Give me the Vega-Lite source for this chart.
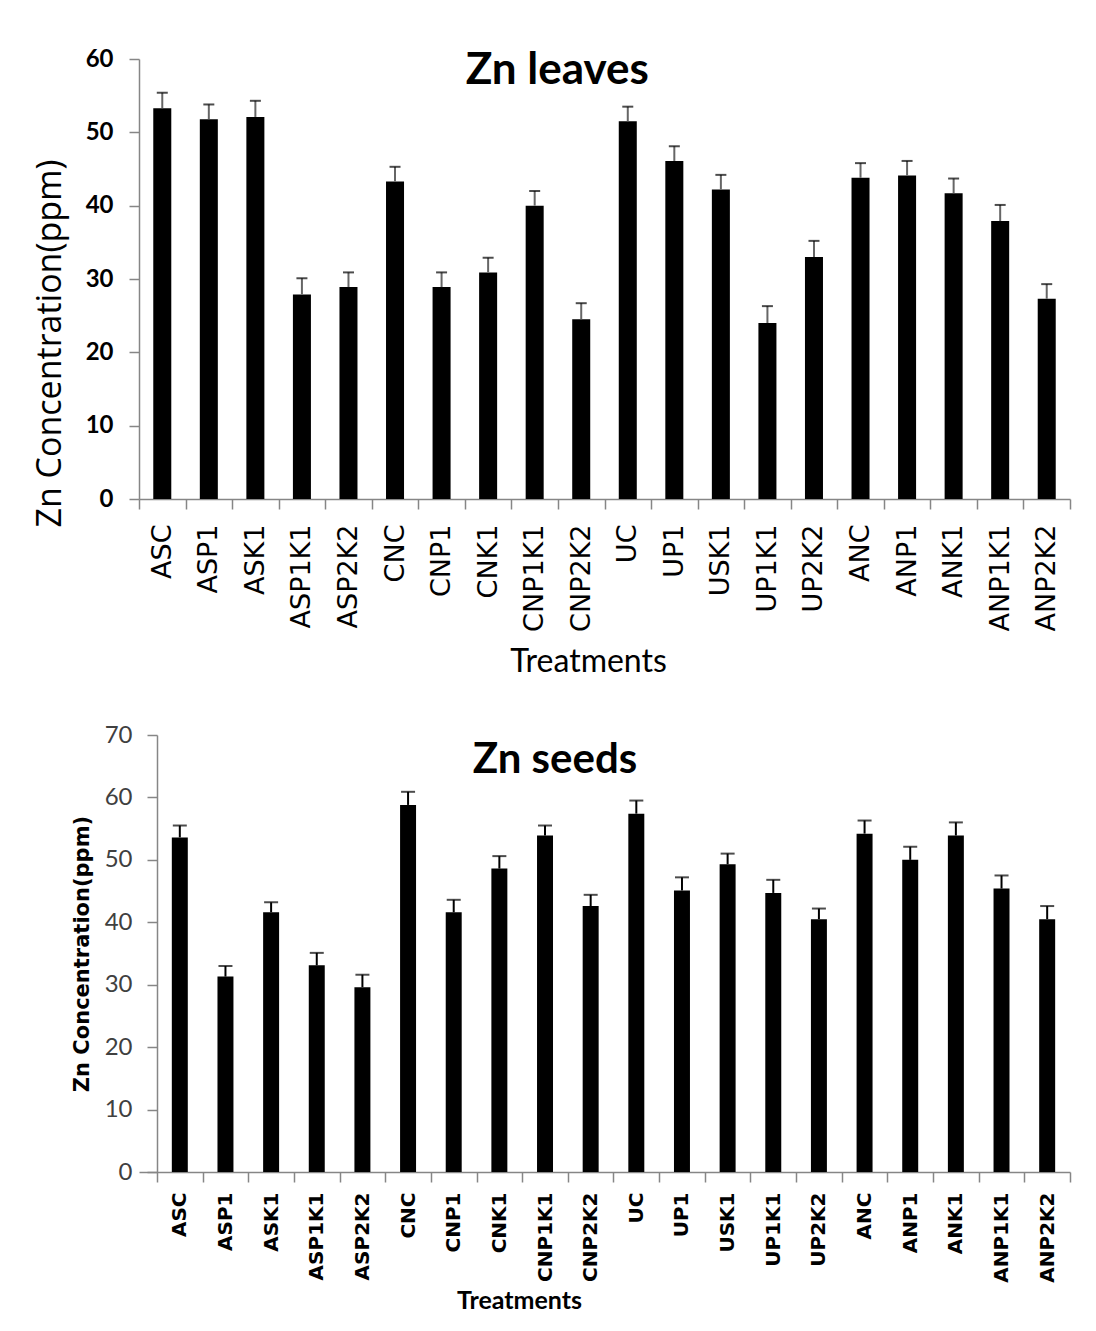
{
  "$schema": "https://vega.github.io/schema/vega-lite/v6.json",
  "background": "white",
  "padding": {"left": 33, "top": 47, "right": 10, "bottom": 5},
  "align": "none",
  "spacing": 45,
  "config": {"view": {"stroke": null}},
  "datasets": {
    "leaves": [
      {"treatment": "ASC", "mean": 53.3, "upper": 55.4},
      {"treatment": "ASP1", "mean": 51.8, "upper": 53.8},
      {"treatment": "ASK1", "mean": 52.1, "upper": 54.3},
      {"treatment": "ASP1K1", "mean": 27.9, "upper": 30.1},
      {"treatment": "ASP2K2", "mean": 28.9, "upper": 30.9},
      {"treatment": "CNC", "mean": 43.3, "upper": 45.3},
      {"treatment": "CNP1", "mean": 28.9, "upper": 30.9},
      {"treatment": "CNK1", "mean": 30.9, "upper": 32.9},
      {"treatment": "CNP1K1", "mean": 40.0, "upper": 42.0},
      {"treatment": "CNP2K2", "mean": 24.5, "upper": 26.7},
      {"treatment": "UC", "mean": 51.5, "upper": 53.5},
      {"treatment": "UP1", "mean": 46.1, "upper": 48.1},
      {"treatment": "USK1", "mean": 42.2, "upper": 44.2},
      {"treatment": "UP1K1", "mean": 24.0, "upper": 26.3},
      {"treatment": "UP2K2", "mean": 33.0, "upper": 35.2},
      {"treatment": "ANC", "mean": 43.8, "upper": 45.8},
      {"treatment": "ANP1", "mean": 44.1, "upper": 46.1},
      {"treatment": "ANK1", "mean": 41.7, "upper": 43.7},
      {"treatment": "ANP1K1", "mean": 37.9, "upper": 40.1},
      {"treatment": "ANP2K2", "mean": 27.3, "upper": 29.3}
    ],
    "seeds": [
      {"treatment": "ASC", "mean": 53.6, "upper": 55.5},
      {"treatment": "ASP1", "mean": 31.3, "upper": 33.0},
      {"treatment": "ASK1", "mean": 41.6, "upper": 43.2},
      {"treatment": "ASP1K1", "mean": 33.1, "upper": 35.1},
      {"treatment": "ASP2K2", "mean": 29.6, "upper": 31.6},
      {"treatment": "CNC", "mean": 58.8, "upper": 60.9},
      {"treatment": "CNP1", "mean": 41.6, "upper": 43.6},
      {"treatment": "CNK1", "mean": 48.6, "upper": 50.6},
      {"treatment": "CNP1K1", "mean": 53.9, "upper": 55.5},
      {"treatment": "CNP2K2", "mean": 42.6, "upper": 44.4},
      {"treatment": "UC", "mean": 57.4, "upper": 59.5},
      {"treatment": "UP1", "mean": 45.1, "upper": 47.2},
      {"treatment": "USK1", "mean": 49.3, "upper": 51.0},
      {"treatment": "UP1K1", "mean": 44.7, "upper": 46.8},
      {"treatment": "UP2K2", "mean": 40.5, "upper": 42.2},
      {"treatment": "ANC", "mean": 54.2, "upper": 56.3},
      {"treatment": "ANP1", "mean": 50.0, "upper": 52.1},
      {"treatment": "ANK1", "mean": 53.9, "upper": 56.0},
      {"treatment": "ANP1K1", "mean": 45.4, "upper": 47.5},
      {"treatment": "ANP2K2", "mean": 40.5, "upper": 42.6}
    ]
  },
  "vconcat": [
    {
      "width": 931,
      "height": 440,
      "encoding": {
        "x": {
          "field": "treatment", "type": "nominal", "sort": null,
          "scale": {"paddingInner": 0, "paddingOuter": 0},
          "axis": {
            "title": "Treatments", "tickBand": "extent", "tickSize": 10,
            "domainColor": "#868686", "tickColor": "#868686", "domainWidth": 1.5, "tickWidth": 1.5,
            "labelAngle": -90, "labelFont": "DejaVu Sans", "labelFontSize": 27, "labelColor": "black", "labelPadding": 15,
            "titleFont": "Lato", "titleFontSize": 32, "titleFontWeight": "normal", "titleColor": "black", "titlePadding": 15, "titleX": 449
          }
        }
      },
      "layer": [
        {
          "data": {"name": "leaves"},
          "mark": {"type": "bar", "color": "black", "width": {"band": 0.387}},
          "encoding": {
            "y": {
              "field": "mean", "type": "quantitative",
              "scale": {"domain": [0, 60], "nice": false},
              "axis": {
                "title": "Zn Concentration(ppm)", "values": [0, 10, 20, 30, 40, 50, 60], "grid": false,
                "domainColor": "#868686", "tickColor": "#868686", "domainWidth": 1.5, "tickWidth": 1.5, "tickSize": 10,
                "labelFont": "Lato", "labelFontSize": 24, "labelFontWeight": "bold", "labelColor": "black", "labelPadding": 16,
                "titleFont": "Open Sans", "titleFontSize": 34, "titleFontWeight": "normal", "titleColor": "black", "titlePadding": 18, "titleY": 284
              }
            }
          }
        },
        {
          "data": {"name": "leaves"},
          "mark": {"type": "rule", "color": "#666666", "strokeWidth": 2},
          "encoding": {"y": {"field": "mean", "type": "quantitative"}, "y2": {"field": "upper"}}
        },
        {
          "data": {"name": "leaves"},
          "mark": {"type": "tick", "color": "black", "thickness": 2, "size": 11},
          "encoding": {"y": {"field": "upper", "type": "quantitative"}}
        },
        {
          "data": {"values": [{"title": "Zn leaves"}]},
          "mark": {"type": "text", "font": "Lato", "fontSize": 44, "fontWeight": "bold", "color": "black", "align": "center", "baseline": "alphabetic", "dx": -24},
          "encoding": {
            "x": {"datum": "CNP2K2"},
            "y": {"datum": 56.6, "type": "quantitative"},
            "text": {"field": "title"}
          }
        }
      ]
    },
    {
      "width": 931,
      "height": 437,
      "encoding": {
        "x": {
          "field": "treatment", "type": "nominal", "sort": null,
          "scale": {"paddingInner": 0, "paddingOuter": 0.197, "align": 1},
          "axis": {
            "title": "Treatments", "tickBand": "extent", "tickSize": 10,
            "domainColor": "#868686", "tickColor": "#868686", "domainWidth": 1.5, "tickWidth": 1.5,
            "labelAngle": -90, "labelFont": "DejaVu Sans", "labelFontSize": 20, "labelFontWeight": "bold", "labelColor": "black", "labelPadding": 10,
            "titleFont": "Lato", "titleFontSize": 25, "titleFontWeight": "bold", "titleColor": "black", "titlePadding": 6, "titleX": 380
          }
        }
      },
      "layer": [
        {
          "data": {"name": "seeds"},
          "mark": {"type": "bar", "color": "black", "width": {"band": 0.35}},
          "encoding": {
            "y": {
              "field": "mean", "type": "quantitative",
              "scale": {"domain": [0, 70], "nice": false},
              "axis": {
                "title": "Zn  Concentration(ppm)", "values": [0, 10, 20, 30, 40, 50, 60, 70], "grid": false, "offset": -18,
                "domainColor": "#868686", "tickColor": "#868686", "domainWidth": 1.5, "tickWidth": 1.5, "tickSize": 10,
                "labelFont": "Lato", "labelFontSize": 24, "labelFontWeight": "normal", "labelColor": "#404040", "labelPadding": 15,
                "titleFont": "DejaVu Sans", "titleFontSize": 21, "titleFontWeight": "bold", "titleColor": "black", "titlePadding": 12
              }
            }
          }
        },
        {
          "data": {"name": "seeds"},
          "mark": {"type": "rule", "color": "black", "strokeWidth": 2},
          "encoding": {"y": {"field": "mean", "type": "quantitative"}, "y2": {"field": "upper"}}
        },
        {
          "data": {"name": "seeds"},
          "mark": {"type": "tick", "color": "black", "thickness": 2, "size": 14},
          "encoding": {"y": {"field": "upper", "type": "quantitative"}}
        },
        {
          "data": {"values": [{"title": "Zn seeds"}]},
          "mark": {"type": "text", "font": "Lato", "fontSize": 42, "fontWeight": "bold", "color": "black", "align": "center", "baseline": "alphabetic", "dx": 10},
          "encoding": {
            "x": {"datum": "CNP1K1"},
            "y": {"datum": 63.9, "type": "quantitative"},
            "text": {"field": "title"}
          }
        }
      ]
    }
  ]
}
